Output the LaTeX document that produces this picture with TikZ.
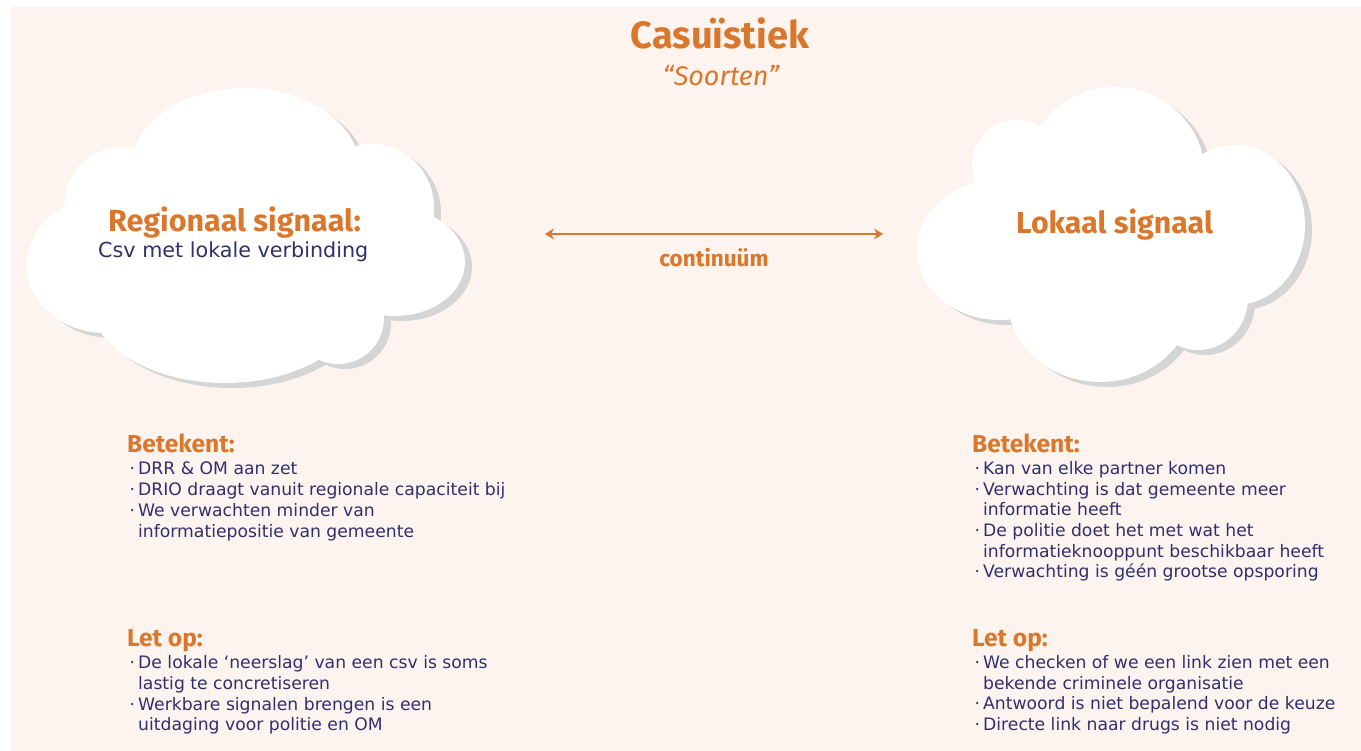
\documentclass[tikz,border=0pt]{standalone}
\usepackage{fontspec}
\setmainfont{DejaVu Sans}
\newfontfamily\kopfont{Fira Sans}
\usetikzlibrary{arrows.meta}

\definecolor{oranje}{HTML}{D9782C}
\definecolor{navy}{HTML}{30306C}
\definecolor{perzik}{HTML}{FDF4EF}
\definecolor{schaduw}{HTML}{D5D5D5}

\newcommand{\bul}{\llap{·\hspace{3pt}}}

\tikzset{
	kop/.style={text=oranje, font=\kopfont\bfseries\fontsize{24.5}{26}\selectfont, anchor=base west, inner sep=0pt},
	regel/.style={text=navy, font=\fontsize{17.2}{20}\selectfont, anchor=base west, inner sep=0pt},
	pijl/.style={draw=oranje, line width=1.3pt, {Stealth[length=9pt,width=11pt,inset=3pt]}-{Stealth[length=9pt,width=11pt,inset=3pt]}},
}

% wolken als unie van ellipsen
\newcommand{\wolklinks}{
	(245,170) ellipse [x radius=115, y radius=82]
	(122,202) ellipse [x radius=57, y radius=55]
	(105,265) ellipse [x radius=78, y radius=68]
	(225,300) ellipse [x radius=135, y radius=83]
	(372,208) ellipse [x radius=62, y radius=64]
	(395,262) ellipse [x radius=70, y radius=54]
	(338,318) ellipse [x radius=46, y radius=46]
	(245,240) ellipse [x radius=180, y radius=100]
}
\newcommand{\wolkrechts}{
	(1115,175) ellipse [x radius=90, y radius=88]
	(1017,165) ellipse [x radius=45, y radius=45]
	(1000,250) ellipse [x radius=83, y radius=70]
	(1100,300) ellipse [x radius=92, y radius=82]
	(1198,298) ellipse [x radius=50, y radius=52]
	(1235,225) ellipse [x radius=70, y radius=80]
	(1110,240) ellipse [x radius=170, y radius=90]
}

\begin{document}
\begin{tikzpicture}[x=1pt,y=-1pt]
	\useasboundingbox (0,0) rectangle (1361,751);
	\fill[white] (0,0) rectangle (1361,751);
	\fill[perzik] (11,7) rectangle (1361,751);

	% Wolken
	\fill[schaduw,shift={(7,5)}] \wolklinks;
	\fill[white] \wolklinks;
	\fill[schaduw,shift={(7,5)}] \wolkrechts;
	\fill[white] \wolkrechts;

	% Titel
	\node[kop, anchor=base, font=\kopfont\bfseries\fontsize{38}{40}\selectfont] (titel) at (720,49) {Casuïstiek};
	\node[kop, anchor=base, font=\kopfont\itshape\fontsize{27}{28}\selectfont] (soorten) at (721,86) {“Soorten”};

	% Wolk teksten
	\node[kop, font=\kopfont\bfseries\fontsize{30.5}{32}\selectfont] (regionaal) at (108,232) {Regionaal signaal:};
	\node[regel, font=\fontsize{20.7}{22}\selectfont] (csv) at (98,258) {Csv met lokale verbinding};
	\node[kop, font=\kopfont\bfseries\fontsize{30.3}{32}\selectfont] (lokaal) at (1016,234) {Lokaal signaal};

	% Continuum
	\coordinate (pijlL) at (545,234);
	\coordinate (pijlR) at (883,234);
	\draw[pijl] (pijlL) -- (pijlR);
	\node[kop, anchor=base, font=\kopfont\bfseries\fontsize{22.5}{24}\selectfont] (continuum) at (714,267) {continuüm};

	%%%%%%%%%%%%%%%%%%%%%%%%%%%%%%%%%%%%%%%%%%%%%%%%%%%%%%%%%%%%%%%%%%%%%%%%

	% Links - Betekent
	\node[kop] (betL) at (127,452) {Betekent:};
	\node[regel] (betL1) at (138,474) {\bul DRR \& OM aan zet};
	\node[regel] (betL2) at (138,495) {\bul DRIO draagt vanuit regionale capaciteit bij};
	\node[regel] (betL3) at (138,516) {\bul We verwachten minder van};
	\node[regel] (betL4) at (138,537) {informatiepositie van gemeente};

	% Links - Let op
	\node[kop] (letL) at (127,646) {Let op:};
	\node[regel] (letL1) at (138,668) {\bul De lokale ‘neerslag’ van een csv is soms};
	\node[regel] (letL2) at (138,689) {lastig te concretiseren};
	\node[regel] (letL3) at (138,710) {\bul Werkbare signalen brengen is een};
	\node[regel] (letL4) at (138,730) {uitdaging voor politie en OM};

	% Rechts - Betekent
	\node[kop] (betR) at (972,452) {Betekent:};
	\node[regel] (betR1) at (983,474) {\bul Kan van elke partner komen};
	\node[regel] (betR2) at (983,495) {\bul Verwachting is dat gemeente meer};
	\node[regel] (betR3) at (983,515) {informatie heeft};
	\node[regel] (betR4) at (983,536) {\bul De politie doet het met wat het};
	\node[regel] (betR5) at (983,557) {informatieknooppunt beschikbaar heeft};
	\node[regel] (betR6) at (983,577) {\bul Verwachting is géén grootse opsporing};

	% Rechts - Let op
	\node[kop] (letR) at (972,646) {Let op:};
	\node[regel] (letR1) at (983,668) {\bul We checken of we een link zien met een};
	\node[regel] (letR2) at (983,689) {bekende criminele organisatie};
	\node[regel] (letR3) at (983,709) {\bul Antwoord is niet bepalend voor de keuze};
	\node[regel] (letR4) at (983,730) {\bul Directe link naar drugs is niet nodig};
\end{tikzpicture}
\end{document}
